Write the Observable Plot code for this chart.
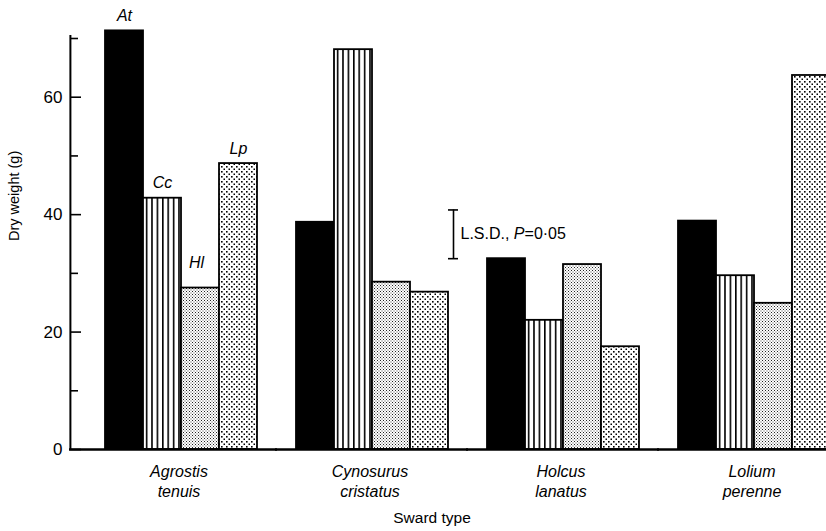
<!DOCTYPE html>
<html>
<head>
<meta charset="utf-8">
<script src="https://cdn.jsdelivr.net/npm/d3@7"></script>
<script src="https://cdn.jsdelivr.net/npm/@observablehq/plot@0.6"></script>
<style>
  html, body { margin: 0; padding: 0; background: #fff; overflow: hidden; }
  #chart svg { display: block; }
</style>
</head>
<body>
<div id="chart"></div>
<script>
// ---- data ----
const groups = ["Agrostis tenuis", "Cynosurus cristatus", "Holcus lanatus", "Lolium perenne"];
const series = ["At", "Cc", "Hl", "Lp"];
const valuesAt = [71.3, 38.7, 32.5, 38.9];
const valuesCc = [42.8, 68.1, 22.0, 29.6];
const valuesHl = [27.5, 28.5, 31.5, 24.9];
const valuesLp = [48.7, 26.8, 17.5, 63.7];
const yTicks = [0, 20, 40, 60];
const yMinorTicks = [10, 30, 50, 70];
const lsd = { group: "Cynosurus cristatus", low: 32.5, high: 40.8, label: "L.S.D., P=0·05" };
const yLabel = "Dry weight (g)";
const xLabel = "Sward type";

const valuesBySeries = { At: valuesAt, Cc: valuesCc, Hl: valuesHl, Lp: valuesLp };
const data = groups.flatMap((g, i) => series.map(s => ({ group: g, series: s, value: valuesBySeries[s][i] })));
const fills = { At: "black", Cc: "url(#stripes)", Hl: "url(#fine)", Lp: "url(#coarse)" };
const first = groups[0];

const barMarks = series.map(s => Plot.barY(data.filter(d => d.series === s), {
  fx: "group", x: "series", y: "value",
  fill: fills[s], stroke: "black", strokeWidth: 1.8
}));

const chart = Plot.plot({
  width: 826,
  height: 531,
  marginTop: 38,
  marginBottom: 82,
  marginLeft: 104,
  marginRight: -4,
  style: { fontFamily: "'Liberation Sans', Arial, sans-serif", fontSize: "16px", color: "black", background: "white" },
  fx: { domain: groups, paddingInner: 0.2, paddingOuter: 0, axis: null, label: null },
  x: { domain: series, padding: 0, axis: null },
  y: { domain: [0, 70], axis: null },
  marks: [
    ...barMarks,
    // baseline
    Plot.ruleY(groups.slice(0, 1).map(g => ({ g, v: 0 })), { fx: "g", y: "v", insetLeft: -35, insetRight: -20, strokeWidth: 2.5 }),
    Plot.ruleY(groups.slice(1).map(g => ({ g, v: 0 })), { fx: "g", y: "v", insetLeft: -20, insetRight: -20, strokeWidth: 2.5 }),
    // y axis line
    Plot.ruleX([{ g: first }], { fx: "g", x: () => "At", y1: () => 0, y2: () => 70.5, dx: -54.1, strokeWidth: 2 }),
    // y axis ticks (inward)
    Plot.tickY(yTicks.map(v => ({ g: first, v })), { fx: "g", x: () => "At", y: "v", dx: -35, insetRight: 27, strokeWidth: 1.6 }),
    Plot.tickY(yMinorTicks.map(v => ({ g: first, v })), { fx: "g", x: () => "At", y: "v", dx: -35, insetRight: 30, strokeWidth: 1.6 }),
    // y tick labels
    Plot.axisY(yTicks, { tickSize: 0, tickPadding: 7, dx: -35, label: null, fontSize: 17 }),
    // y label
    Plot.text([first], { fx: d => d, text: () => yLabel, frameAnchor: "left", dx: -90, dy: -3, rotate: -90, fontSize: 14.5 }),
    // series labels above first group
    Plot.text(data.filter(d => d.group === first && d.series !== "Hl"), { fx: "group", x: "series", y: "value", text: "series", dy: -15, fontStyle: "italic", fontSize: 16 }),
    Plot.text(data.filter(d => d.group === first && d.series === "Hl"), { fx: "group", x: "series", y: "value", text: "series", dy: -25, dx: -4, fontStyle: "italic", fontSize: 16 }),
    // group labels
    Plot.text(groups, { fx: d => d, text: d => d.replace(" ", "\n"), frameAnchor: "bottom", lineAnchor: "top", dy: 13, dx: -2, lineHeight: 1.25, fontStyle: "italic", fontSize: 16 }),
    // x label
    Plot.text([lsd.group], { fx: d => d, text: () => xLabel, frameAnchor: "bottom", dx: 60, dy: 73, fontSize: 15.5 }),
    // LSD bar
    Plot.ruleX([lsd], { fx: "group", x: () => "Lp", y1: "low", y2: "high", dx: 24, strokeWidth: 1.6 }),
    Plot.tickY([lsd.low, lsd.high].map(v => ({ group: lsd.group, v })), { fx: "group", x: () => "Lp", y: "v", dx: 24, insetLeft: 14, insetRight: 14, strokeWidth: 1.6 }),
    Plot.text([lsd], { fx: "group", x: () => "Lp", y: d => (d.low + d.high) / 2, text: "label", dx: 31, textAnchor: "start", fontSize: 16 })
  ]
});

// patterns
d3.select(chart).insert("defs", ":first-child").html(`
  <pattern id="stripes" width="5.4" height="10" patternUnits="userSpaceOnUse">
    <rect width="5.4" height="10" fill="white"/>
    <rect x="0" y="0" width="1.6" height="10" fill="black"/>
  </pattern>
  <pattern id="fine" width="3" height="3" patternUnits="userSpaceOnUse">
    <rect width="3" height="3" fill="white"/>
    <rect x="0" y="0" width="1" height="1" fill="#222"/>
    <rect x="1.5" y="1.5" width="1" height="1" fill="#444"/>
  </pattern>
  <pattern id="coarse" width="5" height="5" patternUnits="userSpaceOnUse">
    <rect width="5" height="5" fill="white"/>
    <rect x="1" y="1" width="1.6" height="1.6" fill="black"/>
    <rect x="3.5" y="3.5" width="1.6" height="1.6" fill="black"/>
  </pattern>
`);

// italic P in the LSD label
d3.select(chart).selectAll("text").filter(function () { return this.textContent === lsd.label; }).each(function () {
  const t = d3.select(this);
  t.text(null);
  t.append("tspan").text("L.S.D., ");
  t.append("tspan").attr("font-style", "italic").text("P");
  t.append("tspan").text("=0·05");
});

document.getElementById("chart").appendChild(chart);
</script>
</body>
</html>
